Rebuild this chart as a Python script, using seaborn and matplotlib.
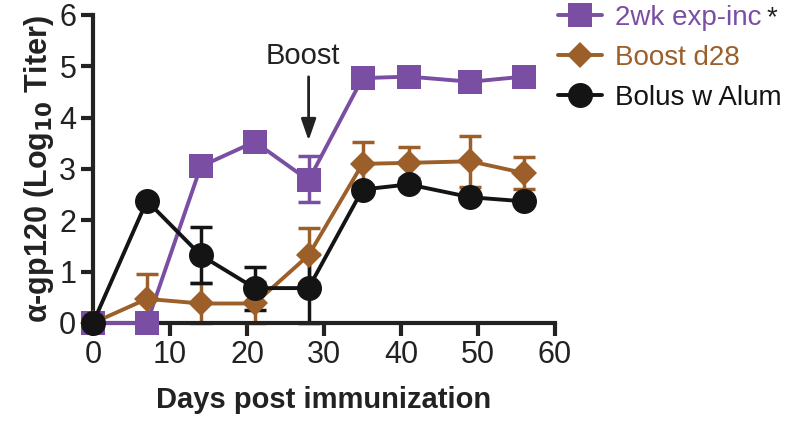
import numpy as np
import pandas as pd
import matplotlib
matplotlib.use("Agg")
import matplotlib.pyplot as plt
from matplotlib.lines import Line2D
import seaborn as sns

days = [0, 7, 14, 21, 28, 35, 41, 49, 56]

exp_inc = [0, 0, 3.05, 3.53, 2.78, 4.77, 4.80, 4.70, 4.80]
exp_inc_lo = [0, 0, 2.98, 3.48, 2.35, 4.72, 4.75, 4.65, 4.75]
exp_inc_hi = [0, 0, 3.12, 3.58, 3.25, 4.82, 4.85, 4.75, 4.85]

boost = [0, 0.47, 0.38, 0.38, 1.32, 3.10, 3.12, 3.15, 2.92]
boost_lo = [0, 0, 0, 0, 0.78, 2.68, 2.82, 2.65, 2.62]
boost_hi = [0, 0.95, 0.78, 0.80, 1.85, 3.52, 3.42, 3.65, 3.23]

bolus = [0, 2.38, 1.32, 0.68, 0.68, 2.60, 2.70, 2.45, 2.37]
bolus_lo = [0, 2.38, 0.77, 0.25, 0, 2.55, 2.65, 2.40, 2.32]
bolus_hi = [0, 2.38, 1.87, 1.10, 1.35, 2.65, 2.75, 2.50, 2.42]

labels = ["2wk exp-inc", "Boost d28", "Bolus w Alum"]
colors = ["#7A4FA3", "#9C5F2A", "#141414"]
markers = ["s", "D", "o"]
sizes = [17, 13, 18]
ink = "#222222"

sns.set_style("ticks")
plt.rcParams["font.family"] = ["Liberation Sans", "DejaVu Sans"]

fig = plt.figure(figsize=(7.96, 4.22), dpi=100)
ax = fig.add_axes([93 / 796, 1 - 323 / 422, (555 - 93) / 796, (323 - 15) / 422])

series = [
    (bolus, bolus_lo, bolus_hi, 2),
    (boost, boost_lo, boost_hi, 1),
    (exp_inc, exp_inc_lo, exp_inc_hi, 0),
]
for vals, lo, hi, i in series:
    v = np.array(vals)
    yerr = [v - np.array(lo), np.array(hi) - v]
    ax.errorbar(days, v, yerr=yerr, fmt="none", ecolor=colors[i],
                elinewidth=2.5, capsize=8, capthick=2.5, zorder=2 + i * 0.1,
                clip_on=False)
    df = pd.DataFrame({"day": days, "titer": vals})
    sns.lineplot(data=df, x="day", y="titer", ax=ax, color=colors[i],
                 linewidth=2.8, marker=markers[i], markersize=sizes[i],
                 markeredgewidth=0, label=None, zorder=3 + i * 0.1,
                 clip_on=False)

ax.set_xlim(0, 60)
ax.set_ylim(0, 6)
ax.set_xticks(range(0, 61, 10))
ax.set_yticks(range(0, 7))
for s in ["top", "right"]:
    ax.spines[s].set_visible(False)
for s in ["left", "bottom"]:
    ax.spines[s].set_linewidth(3)
    ax.spines[s].set_color(ink)
ax.tick_params(axis="both", width=3, length=9, color=ink,
               labelsize=22, labelcolor=ink, pad=3)
ax.set_xlabel("Days post immunization", fontsize=21, fontweight="bold",
              color=ink, labelpad=12)
ax.set_ylabel(r"α-gp120 (Log$_{\mathbf{10}}$ Titer)", fontsize=22,
              fontweight="bold", color=ink, labelpad=2)

ax.annotate("", xy=(28, 3.5), xytext=(28, 4.85),
            arrowprops=dict(arrowstyle="-|>,head_width=0.45,head_length=1.3",
                            color=ink, lw=2))
ax.text(27.3, 5.2, "Boost", ha="center", va="center", fontsize=21, color=ink)

handles = [Line2D([0], [0], color=colors[i], lw=2.8, marker=markers[i],
                  markersize=sizes[i], markeredgewidth=0) for i in range(3)]
leg = fig.legend(handles, labels, loc="upper left",
                 bbox_to_anchor=(558 / 796, 1 - 5 / 422), frameon=False,
                 fontsize=20, handlelength=1.6, labelspacing=0.5,
                 handletextpad=0.45, borderpad=0, borderaxespad=0)
for t, c in zip(leg.get_texts(), colors):
    t.set_color(c)

fig.canvas.draw()
bb = leg.get_texts()[0].get_window_extent()
fx, fy = fig.transFigure.inverted().transform((bb.x1 + 5, (bb.y0 + bb.y1) / 2))
fig.text(fx, fy, "*", ha="left", va="center", fontsize=20, color=ink)

fig.savefig("out.png", dpi=100)
